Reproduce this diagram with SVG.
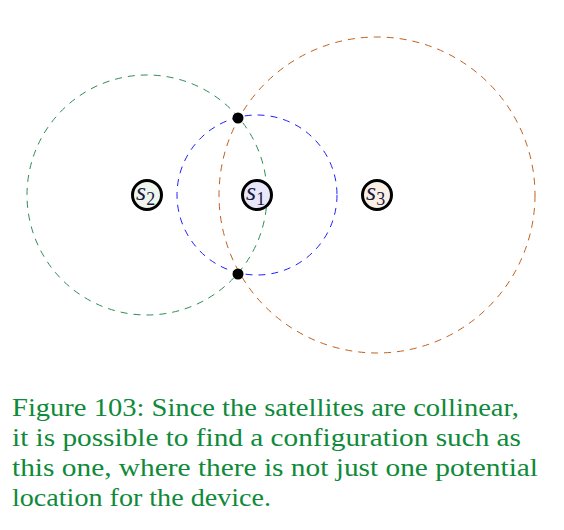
<svg xmlns="http://www.w3.org/2000/svg" width="564" height="530" viewBox="0 0 564 530">
<style>
.ring{fill:none;stroke-width:1;stroke-dasharray:7 6}
.node{stroke:#000;stroke-width:3}
.lbl{font-family:"Liberation Serif","Times New Roman",serif;font-style:italic;font-size:26px;fill:#1a1a40}
.sub{font-family:"Liberation Serif","Times New Roman",serif;font-size:18px;fill:#1a1a40;font-style:normal}
.cap{font-family:"Liberation Serif","Times New Roman",serif;font-size:25px;fill:#0e8a3a}
</style>
<rect width="564" height="530" fill="#fff"/>
<g id="connectors">
<circle class="ring" cx="147" cy="195" r="120" stroke="#2e8b57"/>
<circle class="ring" cx="257" cy="195" r="80" stroke="#1f1fff"/>
<circle class="ring" cx="377" cy="195" r="158" stroke="#c0601e"/>
</g>
<g id="p1"><circle cx="238" cy="118" r="5.5" fill="#000"/></g>
<g id="p2"><circle cx="238" cy="274" r="5.5" fill="#000"/></g>
<g id="s2"><circle class="node" cx="147" cy="195" r="14.5" fill="#eef6ee"/><text x="136" y="200" class="lbl">s<tspan class="sub" dy="5">2</tspan></text></g>
<g id="s1"><circle class="node" cx="257" cy="195" r="14.5" fill="#e8e8fa"/><text x="246" y="200" class="lbl">s<tspan class="sub" dy="5">1</tspan></text></g>
<g id="s3"><circle class="node" cx="377" cy="195" r="14.5" fill="#faf0e6"/><text x="366" y="200" class="lbl">s<tspan class="sub" dy="5">3</tspan></text></g>
<g id="caption">
<text class="cap" x="12" y="416" textLength="507" lengthAdjust="spacingAndGlyphs">Figure 103: Since the satellites are collinear,</text>
<text class="cap" x="12" y="446" textLength="509" lengthAdjust="spacingAndGlyphs">it is possible to find a configuration such as</text>
<text class="cap" x="12" y="476" textLength="526" lengthAdjust="spacingAndGlyphs">this one, where there is not just one potential</text>
<text class="cap" x="12" y="506" textLength="259" lengthAdjust="spacingAndGlyphs">location for the device.</text>
</g>
</svg>
